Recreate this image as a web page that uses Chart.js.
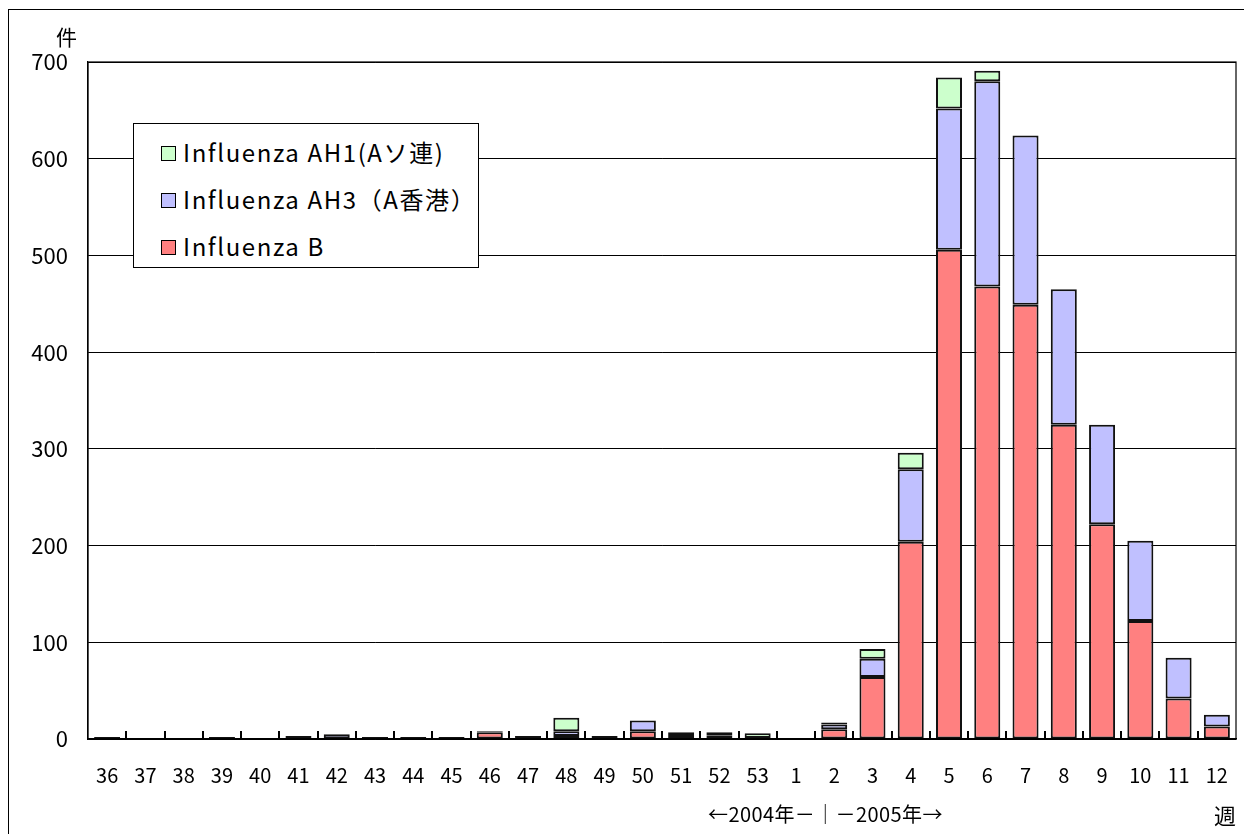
<!DOCTYPE html>
<html>
<head>
<meta charset="utf-8">
<script src="https://cdn.jsdelivr.net/npm/chart.js@4.4.0/dist/chart.umd.min.js"></script>
<style>
    html, body { margin: 0; padding: 0; background: #fff; overflow: hidden; }
    body { width: 1244px; height: 834px; position: relative; font-family: "Noto Sans CJK JP", "Noto Sans", sans-serif; }
    #frame { position: absolute; left: 8px; top: 9px; width: 1300px; height: 900px; border: 1px solid #000; box-sizing: border-box; }
    #chart { position: absolute; left: 0; top: 0; }
    .txt { position: absolute; color: #000; white-space: nowrap; line-height: 1; }
    #legend { position: absolute; left: 133px; top: 123px; width: 346px; height: 145px; background: #fff; border: 1px solid #000; box-sizing: border-box; }
    .item { position: absolute; left: 27px; font-size: 24px; letter-spacing: 1.6px; line-height: 1; }
    .item span.box { display: inline-block; width: 13px; height: 13px; border: 1.5px solid #000; margin-right: 7px; vertical-align: 1px; }
</style>
</head>
<body>
<div id="frame"></div>
<canvas id="chart" width="1244" height="834"></canvas>

<div class="txt" style="left:56px; top:26px; font-size:21px;">件</div>
<div class="txt" style="left:708px; top:804px; font-size:20px; letter-spacing:0.4px;">←2004年－｜－2005年→</div>
<div class="txt" style="left:1214px; top:803px; font-size:22px;">週</div>

<div id="legend"></div>

<script>

// ==========================================
// Data
// ==========================================

const weeks = [
    "36", "37", "38", "39", "40", "41", "42", "43", "44", "45",
    "46", "47", "48", "49", "50", "51", "52", "53", "1", "2",
    "3", "4", "5", "6", "7", "8", "9", "10", "11", "12"
];

const fluB = [
    2, 0, 0, 2, 0, 0, 0, 2, 2, 2,
    7, 2, 3, 2, 8, 3, 4, 1, 0, 10,
    64, 204, 506, 468, 449, 325, 222, 122, 42, 13
];

const fluAH3 = [
    0, 0, 0, 0, 0, 3, 5, 0, 0, 0,
    1, 1, 5, 1, 11, 0, 3, 0, 0, 5,
    19, 75, 146, 212, 175, 140, 103, 83, 42, 12
];

const fluAH1 = [
    0, 0, 0, 0, 0, 0, 0, 0, 0, 0,
    0, 0, 14, 0, 0, 4, 0, 5, 0, 2,
    10, 17, 32, 11, 0, 0, 0, 0, 0, 0
];

const yTicks = [0, 100, 200, 300, 400, 500, 600, 700];

const seriesNames = [
    "Influenza AH1(Aソ連)",
    "Influenza AH3（A香港）",
    "Influenza B"
];

const seriesColors = ["#CCFFCC", "#C0C0FF", "#FF8080"];


// ==========================================
// Legend (HTML box inside plot)
// ==========================================

const legend = document.getElementById("legend");

seriesNames.forEach((name, i) => {

    const row = document.createElement("div");
    row.className = "item";
    row.style.top = (16 + i * 47) + "px";
    row.innerHTML = `<span class="box" style="background:${seriesColors[i]}"></span>${name}`;
    legend.appendChild(row);

});


// ==========================================
// Plugins: plot frame + inner x ticks
// ==========================================

const framePlugin = {

    id: "framePlugin",

    afterDraw(chart) {

        const c = chart.ctx;
        const area = chart.chartArea;
        const step = (area.right - area.left) / weeks.length;

        c.save();
        c.strokeStyle = "#000";
        c.lineWidth = 2;

        // small tick marks between categories, pointing up
        for (let i = 1; i < weeks.length; i++) {
            const px = Math.round(area.left + step * i);
            c.beginPath();
            c.moveTo(px, area.bottom);
            c.lineTo(px, area.bottom - 8);
            c.stroke();
        }

        c.lineWidth = 1.2;
        c.strokeRect(area.left, area.top, area.right - area.left, area.bottom - area.top);

        c.restore();

    }

};


// ==========================================
// Chart
// ==========================================

const ctx = document.getElementById("chart").getContext("2d");

function barSet(label, data, color) {

    return {
        label: label,
        data: data,
        backgroundColor: color,
        borderColor: "#111",
        borderWidth: 2,
        borderSkipped: false
    };

}

new Chart(ctx, {

    type: "bar",

    data: {

        labels: weeks,

        datasets: [
            barSet(seriesNames[2], fluB, seriesColors[2]),
            barSet(seriesNames[1], fluAH3, seriesColors[1]),
            barSet(seriesNames[0], fluAH1, seriesColors[0])
        ]

    },

    options: {

        responsive: false,
        animation: false,
        devicePixelRatio: 1,

        categoryPercentage: 0.68,
        barPercentage: 1.0,

        layout: {
            padding: { left: 0, top: 62, right: 8, bottom: 0 }
        },

        plugins: {
            legend: { display: false },
            tooltip: { enabled: false }
        },

        scales: {

            x: {
                stacked: true,
                grid: { display: false, drawTicks: false },
                border: { display: true, color: "#000", width: 1.5 },
                ticks: {
                    color: "#000",
                    padding: 24,
                    maxRotation: 0,
                    autoSkip: false,
                    font: { family: "'Noto Sans CJK JP', sans-serif", size: 20 }
                },
                afterFit(scale) {
                    scale.height = 95;
                    scale.paddingLeft = 0;
                    scale.paddingRight = 0;
                }
            },

            y: {
                stacked: true,
                min: 0,
                max: 700,
                afterBuildTicks(scale) {
                    scale.ticks = yTicks.map(v => ({ value: v }));
                },
                grid: {
                    color: "#000",
                    lineWidth: 1,
                    drawTicks: false
                },
                border: { display: true, color: "#000", width: 1.2 },
                ticks: {
                    color: "#000",
                    padding: 20,
                    font: { family: "'Noto Sans CJK JP', sans-serif", size: 22 }
                },
                afterFit(scale) {
                    scale.width = 88;
                }
            }

        }

    },

    plugins: [framePlugin]

});

</script>
</body>
</html>
